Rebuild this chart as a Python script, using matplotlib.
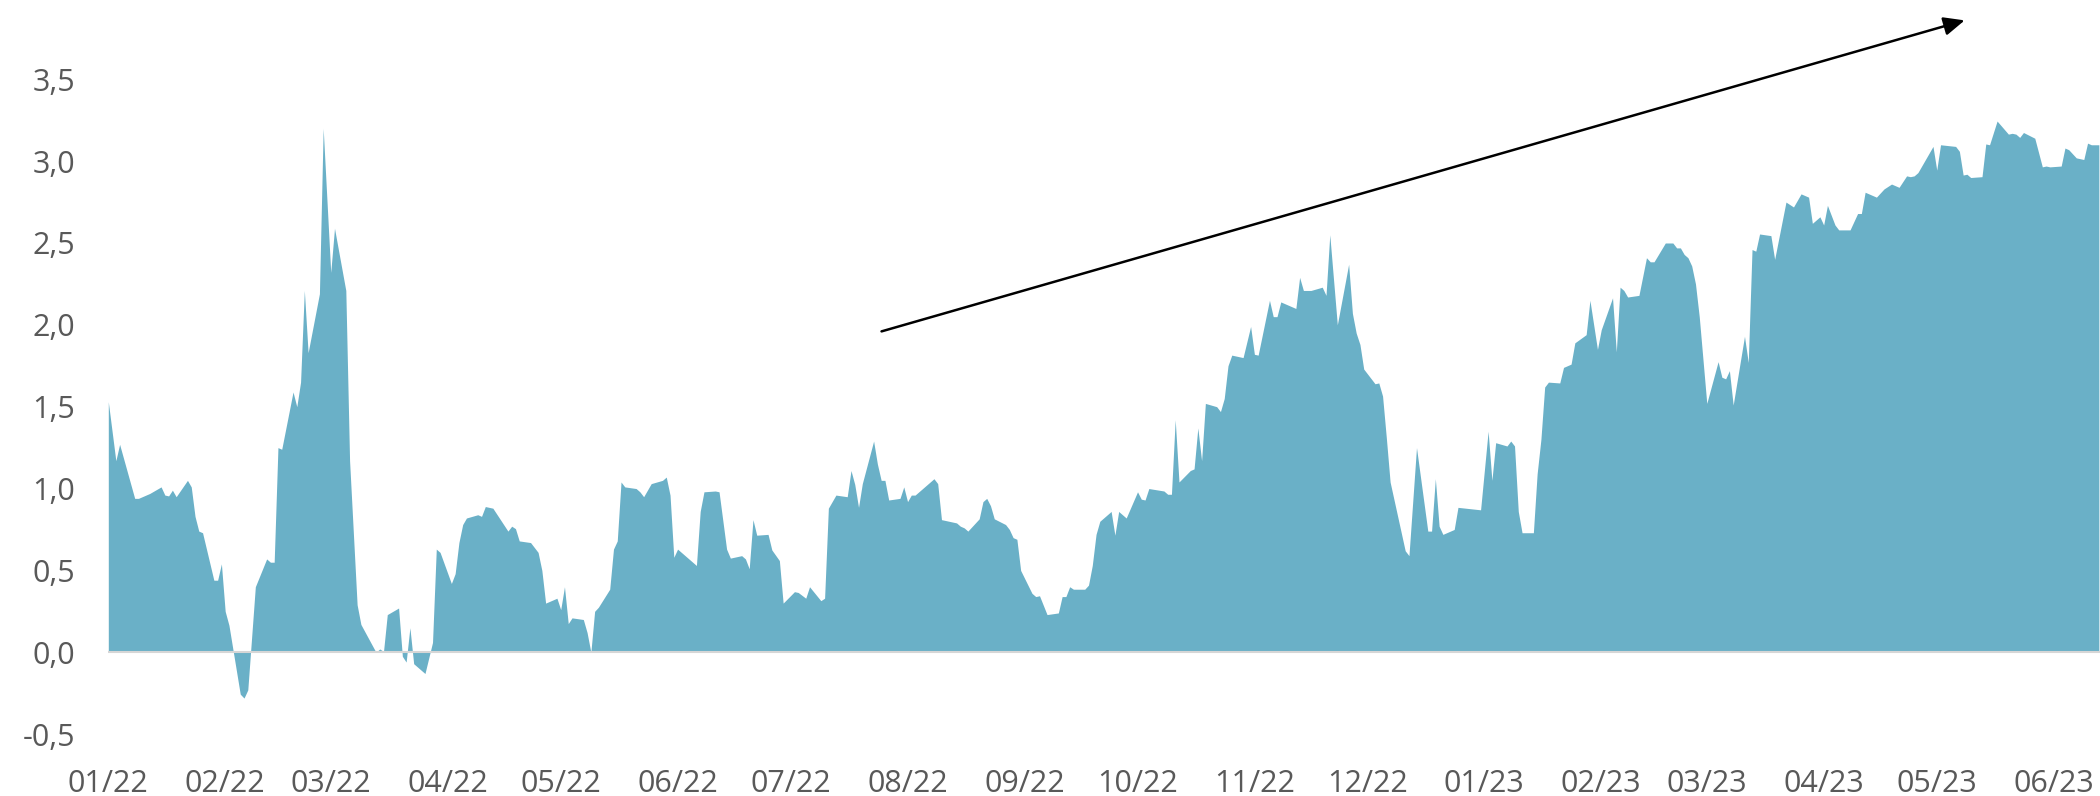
import numpy as np
import pandas as pd
import matplotlib
matplotlib.use("Agg")
import matplotlib.pyplot as plt
import matplotlib.dates as mdates
from matplotlib.ticker import FuncFormatter

plt.rcParams['font.family'] = ['Open Sans', 'DejaVu Sans']

# Daten (Tage seit 01.01.2022, Wert)
start = pd.Timestamp("2022-01-01")
days = [
    0, 2, 3, 7, 8, 11, 14, 15, 16, 17, 18, 21, 22, 23, 24, 25, 28, 29, 30, 31,
    32, 35, 36, 37, 39, 42, 43, 44, 45, 46, 49, 50, 51, 52, 53, 56, 57, 59, 60, 63,
    64, 66, 67, 71, 72, 73, 74, 77, 78, 79, 80, 81, 84, 86, 87, 88, 91, 92, 93, 94,
    95, 98, 99, 100, 102, 106, 107, 108, 109, 112, 114, 115, 116, 119, 120, 121, 122, 123, 126, 127,
    128, 129, 130, 133, 134, 135, 136, 137, 140, 141, 142, 144, 147, 148, 149, 150, 151, 155, 156, 157,
    158, 161, 162, 164, 165, 168, 169, 170, 171, 172, 175, 176, 178, 179, 182, 183, 185, 186, 189, 190,
    191, 193, 196, 197, 198, 199, 200, 203, 204, 205, 206, 207, 210, 211, 212, 213, 214, 219, 220, 221,
    225, 226, 227, 228, 231, 232, 233, 234, 235, 238, 239, 240, 241, 242, 245, 246, 247, 249, 252, 253,
    254, 255, 256, 259, 260, 261, 262, 263, 266, 267, 268, 270, 273, 274, 275, 276, 280, 281, 282, 283,
    284, 287, 288, 289, 290, 291, 294, 295, 296, 297, 298, 301, 303, 304, 305, 308, 309, 310, 311, 315,
    316, 317, 319, 322, 323, 324, 326, 329, 330, 331, 332, 333, 336, 337, 338, 339, 340, 344, 345, 347,
    350, 351, 352, 353, 354, 357, 358, 360, 364, 366, 367, 368, 371, 372, 373, 374, 375, 378, 379, 380,
    381, 382, 385, 386, 388, 389, 392, 393, 395, 396, 399, 400, 401, 402, 403, 406, 408, 409, 410, 413,
    415, 416, 417, 418, 419, 420, 421, 422, 424, 427, 428, 429, 430, 431, 434, 435, 436, 437, 438, 441,
    442, 445, 447, 449, 451, 452, 454, 455, 456, 458, 459, 462, 464, 465, 466, 468, 469, 471, 473, 475,
    477, 478, 479, 480, 484, 485, 486, 490, 491, 492, 493, 494, 497, 498, 499, 501, 504, 505, 506, 507,
    508, 511, 513, 514, 515, 518, 519, 520, 522, 524, 525, 526, 528,
]
werte = [
    1.53, 1.17, 1.27, 0.94, 0.94, 0.97, 1.01, 0.96, 0.955, 0.99, 0.95, 1.05, 1.01, 0.83, 0.74, 0.73, 0.44, 0.44, 0.54, 0.25,
    0.165, -0.256, -0.28, -0.23, 0.40, 0.57, 0.55, 0.55, 1.25, 1.24, 1.59, 1.50, 1.65, 2.21, 1.83, 2.19, 3.20, 2.32, 2.59, 2.21,
    1.17, 0.29, 0.17, 0.0, 0.02, 0.005, 0.23, 0.27, -0.025, -0.06, 0.15, -0.07, -0.13, 0.06, 0.63, 0.61, 0.42, 0.48, 0.67, 0.78,
    0.82, 0.84, 0.83, 0.89, 0.88, 0.74, 0.77, 0.755, 0.68, 0.67, 0.61, 0.50, 0.30, 0.33, 0.26, 0.40, 0.175, 0.21, 0.20, 0.12,
    0.0, 0.25, 0.275, 0.385, 0.63, 0.68, 1.04, 1.01, 1.00, 0.98, 0.95, 1.03, 1.05, 1.07, 0.96, 0.58, 0.63, 0.55, 0.53, 0.86,
    0.98, 0.985, 0.98, 0.63, 0.575, 0.59, 0.57, 0.51, 0.81, 0.715, 0.72, 0.625, 0.56, 0.30, 0.37, 0.365, 0.33, 0.40, 0.315, 0.33,
    0.88, 0.96, 0.95, 1.11, 1.025, 0.885, 1.03, 1.29, 1.15, 1.05, 1.05, 0.93, 0.94, 1.01, 0.92, 0.96, 0.96, 1.06, 1.03, 0.81,
    0.79, 0.77, 0.76, 0.74, 0.815, 0.92, 0.94, 0.895, 0.815, 0.78, 0.75, 0.70, 0.69, 0.50, 0.36, 0.34, 0.345, 0.23, 0.24, 0.34,
    0.34, 0.40, 0.385, 0.385, 0.41, 0.53, 0.72, 0.80, 0.86, 0.715, 0.86, 0.82, 0.98, 0.935, 0.93, 1.00, 0.985, 0.965, 0.965, 1.42,
    1.04, 1.11, 1.12, 1.37, 1.17, 1.52, 1.50, 1.47, 1.55, 1.75, 1.815, 1.80, 1.99, 1.82, 1.815, 2.15, 2.05, 2.05, 2.14, 2.10,
    2.29, 2.21, 2.21, 2.23, 2.18, 2.55, 2.00, 2.37, 2.07, 1.95, 1.88, 1.73, 1.64, 1.645, 1.565, 1.31, 1.04, 0.62, 0.59, 1.25,
    0.74, 0.74, 1.06, 0.77, 0.72, 0.75, 0.885, 0.88, 0.87, 1.35, 1.05, 1.28, 1.26, 1.29, 1.26, 0.86, 0.73, 0.73, 1.09, 1.30,
    1.62, 1.65, 1.645, 1.74, 1.76, 1.89, 1.94, 2.15, 1.85, 1.97, 2.165, 1.835, 2.23, 2.21, 2.17, 2.18, 2.41, 2.385, 2.385, 2.50,
    2.50, 2.47, 2.47, 2.43, 2.41, 2.36, 2.25, 2.05, 1.52, 1.775, 1.68, 1.67, 1.72, 1.51, 1.93, 1.77, 2.46, 2.45, 2.555, 2.545,
    2.40, 2.75, 2.72, 2.80, 2.78, 2.62, 2.66, 2.61, 2.73, 2.61, 2.58, 2.58, 2.68, 2.68, 2.81, 2.79, 2.78, 2.83, 2.86, 2.84,
    2.91, 2.905, 2.91, 2.93, 3.09, 2.945, 3.10, 3.09, 3.06, 2.915, 2.92, 2.90, 2.905, 3.105, 3.10, 3.245, 3.165, 3.17, 3.165, 3.145,
    3.175, 3.14, 2.965, 2.97, 2.965, 2.97, 3.08, 3.07, 3.02, 3.01, 3.11, 3.10, 3.10,
]

# Trendpfeil (Start/Ende)
pfeil_tage = [205.1, 492.4]
pfeil_werte = [1.96, 3.86]

datum = start + pd.to_timedelta(days, unit="D")
pfeil_datum = start + pd.to_timedelta(pfeil_tage, unit="D")

fig = plt.figure(figsize=(21, 7.96), dpi=100)
ax = fig.add_axes([108.3 / 2100, 0.0531, 1 - 108.3 / 2100, 0.946])

ax.fill_between(datum, werte, 0, color="#6AB0C7", linewidth=0, zorder=2)
ax.axhline(0, color="#d6d6d6", lw=1.5, zorder=3)

ax.annotate("", xy=(pfeil_datum[1], pfeil_werte[1]), xytext=(pfeil_datum[0], pfeil_werte[0]),
            arrowprops=dict(arrowstyle="-|>,head_length=0.45,head_width=0.2", color="black",
                            lw=1.8, mutation_scale=28, shrinkA=0, shrinkB=0), zorder=4)

ax.set_xlim(start, start + pd.Timedelta(days=528.3))
ax.set_ylim(-0.62, 3.98)

ax.xaxis.set_major_locator(mdates.MonthLocator())
ax.xaxis.set_major_formatter(mdates.DateFormatter("%m/%y"))
ax.set_yticks(np.arange(-0.5, 3.51, 0.5))
ax.yaxis.set_major_formatter(FuncFormatter(lambda v, p: f"{v:.1f}".replace(".", ",")))

ax.tick_params(axis="both", length=0, labelsize=22, labelcolor="#595959")
ax.tick_params(axis="y", pad=24)
ax.tick_params(axis="x", pad=11)
for s in ax.spines.values():
    s.set_visible(False)

fig.savefig("out.png", dpi=100)
